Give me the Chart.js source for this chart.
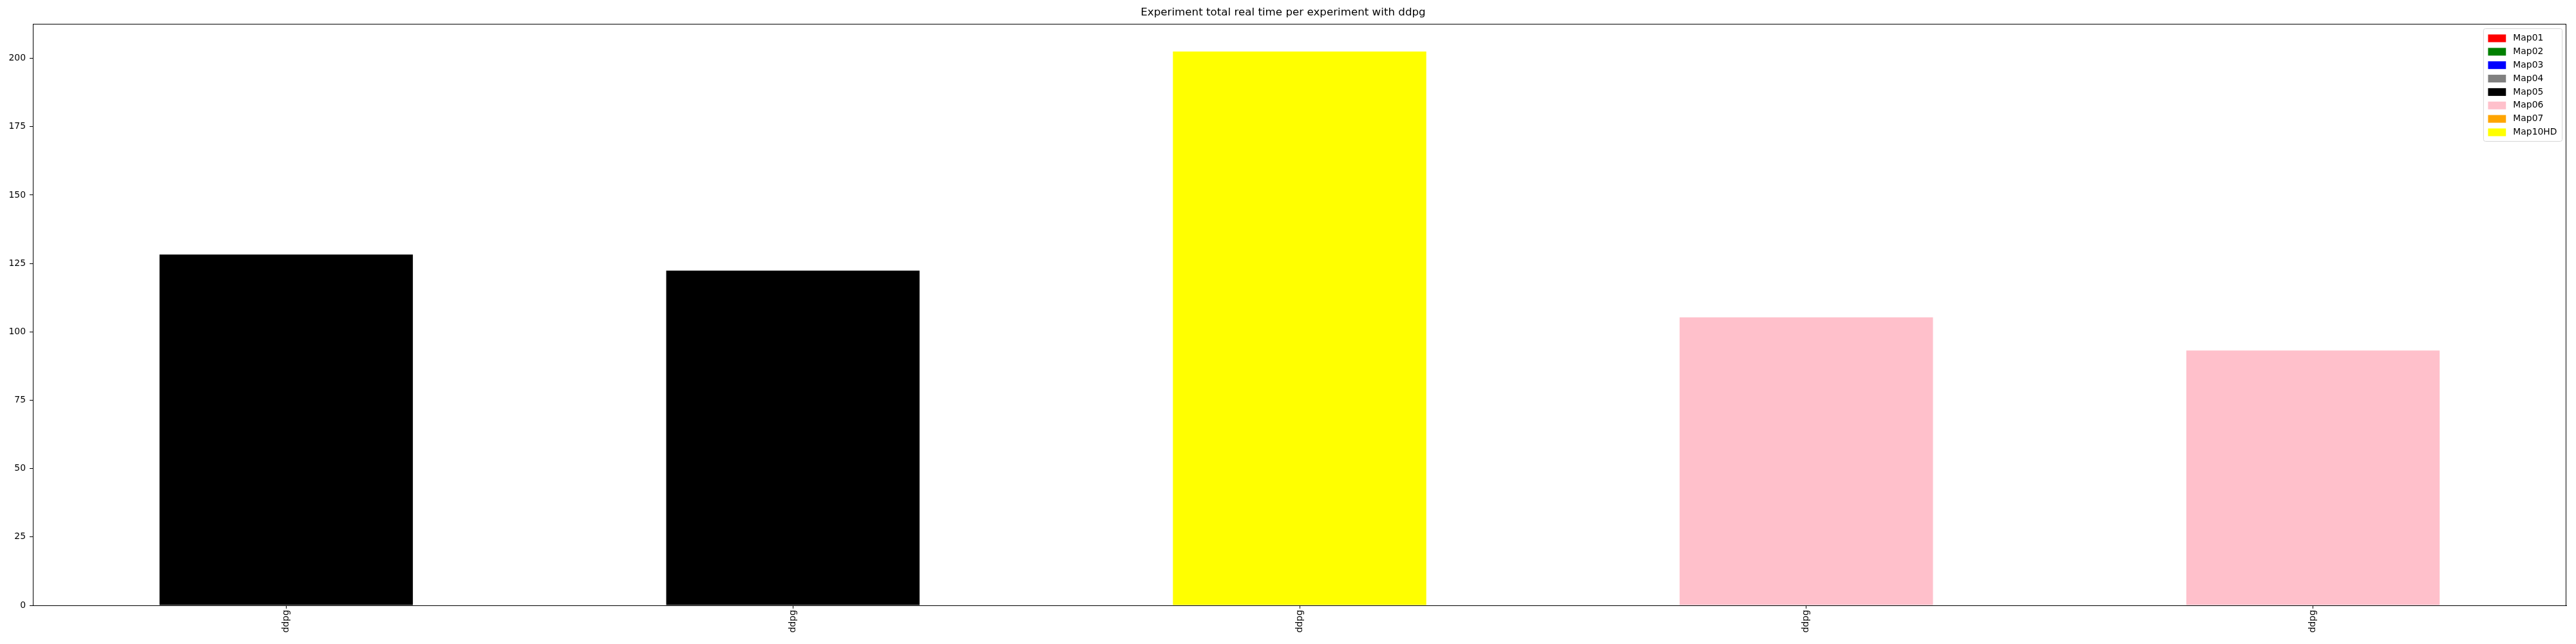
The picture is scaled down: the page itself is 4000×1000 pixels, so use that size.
<!DOCTYPE html>
<html>
<head>
<meta charset="utf-8">
<script src="https://cdn.jsdelivr.net/npm/chart.js@4"></script>
<style>
	html, body { margin: 0; padding: 0; background: #fff; }
	#wrap { width: 4000px; height: 1000px; }
</style>
</head>
<body>
<div id="wrap"><canvas id="time_chart" width="4000" height="1000"></canvas></div>
<script>
// ==== 데이터 ==== //
const experiments = ['ddpg', 'ddpg', 'ddpg', 'ddpg', 'ddpg'];
const totalRealTime = [128.3, 122.4, 202.5, 105.3, 93.2];
const runMap = ['Map05', 'Map05', 'Map10HD', 'Map06', 'Map06'];
const mapNames = ['Map01', 'Map02', 'Map03', 'Map04', 'Map05', 'Map06', 'Map07', 'Map10HD'];
const mapColors = ['red', 'green', 'blue', 'gray', 'black', 'pink', 'orange', 'yellow'];
const yTicks = [0, 25, 50, 75, 100, 125, 150, 175, 200];

const FONT = "'DejaVu Sans', sans-serif";

// 맵마다 데이터셋 하나 (해당 맵이 아닌 칸은 null)
const datasets = mapNames.map((name, i) => ({
	label: name,
	data: totalRealTime.map((v, j) => runMap[j] === name ? v : null),
	backgroundColor: mapColors[i],
	borderWidth: 0
}));

// 축 테두리 + 범례 그리기
const framePlugin = {
	id: 'frame',
	afterDraw(chart) {
		const ctx = chart.ctx;
		const a = chart.chartArea;
		ctx.save();
		ctx.strokeStyle = '#000';
		ctx.lineWidth = 1;
		ctx.strokeRect(a.left + 0.5, a.top + 0.5, a.right - a.left - 1, a.bottom - a.top);

		// 범례 (matplotlib 스타일, 우상단)
		const fs = 13.9;
		ctx.font = fs + 'px ' + FONT;
		let maxW = 0;
		mapNames.forEach(n => { maxW = Math.max(maxW, ctx.measureText(n).width); });
		const pad = 0.4 * fs, handleW = 2 * fs, gap = 0.8 * fs, rowH = 1.5 * fs;
		const boxW = pad * 2 + handleW + gap + maxW + 4;
		const boxH = pad * 2 + rowH * mapNames.length - 0.5 * fs + 4;
		const bx = a.right - 0.5 * fs - boxW;
		const by = a.top + 0.5 * fs;
		ctx.fillStyle = 'rgba(255,255,255,0.8)';
		ctx.strokeStyle = '#d6d6d6';
		ctx.beginPath();
		ctx.roundRect(bx + 0.5, by + 0.5, boxW, boxH, 3);
		ctx.fill();
		ctx.stroke();
		mapNames.forEach((n, i) => {
			const cy = by + pad + 2 + fs / 2 + i * rowH + 1;
			ctx.fillStyle = mapColors[i];
			ctx.fillRect(bx + pad + 2, cy - 6, handleW, 12);
			ctx.fillStyle = '#000';
			ctx.textBaseline = 'middle';
			ctx.textAlign = 'left';
			ctx.fillText(n, bx + pad + 2 + handleW + gap, cy);
		});
		ctx.restore();
	}
};

const ctx = document.getElementById('time_chart').getContext('2d');
new Chart(ctx, {
	type: 'bar',
	data: {
		labels: experiments,
		datasets: datasets
	},
	options: {
		responsive: false,
		animation: false,
		layout: { padding: { left: 0, right: 15, top: 0, bottom: 0 } },
		datasets: {
			bar: {
				grouped: false,
				barPercentage: 0.5,
				categoryPercentage: 1.0
			}
		},
		scales: {
			x: {
				offset: true,
				grid: { display: true, offset: false, drawOnChartArea: false, tickLength: 5, tickColor: '#000' },
				border: { display: true, color: '#000' },
				ticks: {
					minRotation: 90,
					maxRotation: 90,
					padding: 2,
					color: '#000',
					font: { family: FONT, size: 13.9 }
				},
				afterFit(scale) { scale.height = 60; }
			},
			y: {
				min: 0,
				max: Math.max(...totalRealTime) * 1.05,
				grid: { display: true, drawOnChartArea: false, tickLength: 5, tickColor: '#000' },
				border: { display: true, color: '#000' },
				ticks: {
					stepSize: 25,
					padding: 6,
					color: '#000',
					font: { family: FONT, size: 13.9 }
				},
				afterBuildTicks(scale) {
					scale.ticks = yTicks.map(v => ({ value: v }));
				},
				afterFit(scale) { scale.width = 51; }
			}
		},
		plugins: {
			legend: { display: false },
			tooltip: { enabled: false },
			title: {
				display: true,
				text: 'Experiment total real time per experiment with ddpg',
				color: '#000',
				font: { family: FONT, size: 16.7, weight: 'normal' },
				padding: { top: 10, bottom: 7 }
			}
		}
	},
	plugins: [framePlugin]
});
</script>
</body>
</html>
